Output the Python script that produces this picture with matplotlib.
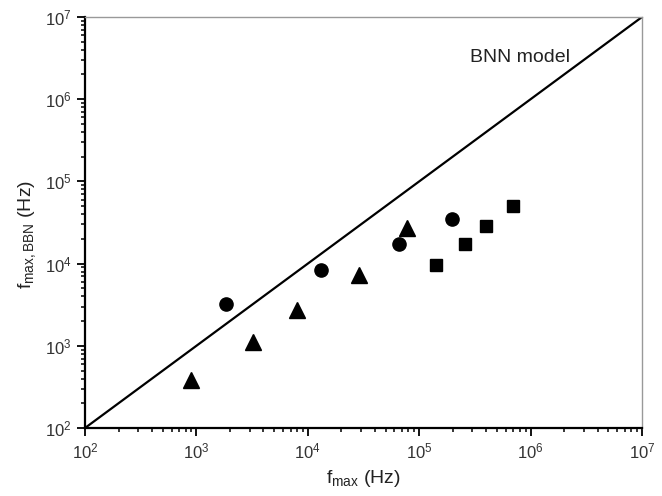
import matplotlib
matplotlib.use("Agg")
import matplotlib.pyplot as plt
from matplotlib.ticker import LogLocator, LogFormatterMathtext, NullFormatter

plt.rcParams['font.family'] = ['Liberation Sans', 'DejaVu Sans']
plt.rcParams['mathtext.fontset'] = 'custom'
plt.rcParams['mathtext.rm'] = 'Liberation Sans'
plt.rcParams['mathtext.it'] = 'Liberation Sans:italic'
plt.rcParams['mathtext.bf'] = 'Liberation Sans:bold'

# data
tri_x = [900, 3220, 8000, 2.9e4, 7.7e4]
tri_y = [380, 1100, 2700, 7270, 2.71e4]
circ_x = [1830, 1.31e4, 6.59e4, 1.97e5]
circ_y = [3225, 8360, 1.73e4, 3.46e4]
sq_x = [1.41e5, 2.58e5, 3.98e5, 6.9e5]
sq_y = [9.6e3, 1.75e4, 2.87e4, 5.06e4]
model_x = [1e2, 1e7]
model_y = [1e2, 1e7]

fig = plt.figure(figsize=(6.62, 4.96), dpi=100)
ax = fig.add_axes([0.1284, 0.1371, 0.8414, 0.8286])

ax.plot(model_x, model_y, color='black', lw=1.6)
ax.plot(tri_x, tri_y, '^', color='black', ms=11, ls='none')
ax.plot(circ_x, circ_y, 'o', color='black', ms=9.5, ls='none')
ax.plot(sq_x, sq_y, 's', color='black', ms=9, ls='none')

ax.set_xscale('log')
ax.set_yscale('log')
ax.set_xlim(1e2, 1e7)
ax.set_ylim(1e2, 1e7)

for axis in (ax.xaxis, ax.yaxis):
    axis.set_major_locator(LogLocator(base=10, numticks=10))
    axis.set_minor_locator(LogLocator(base=10, subs=range(2, 10), numticks=10))
    axis.set_major_formatter(LogFormatterMathtext())
    axis.set_minor_formatter(NullFormatter())

ax.tick_params(which='major', direction='out', length=6, width=1.3,
               labelsize=12, labelcolor='#333333', top=False, right=False)
ax.tick_params(which='minor', direction='out', length=3, width=1.1,
               top=False, right=False)
for s in ('left', 'bottom'):
    ax.spines[s].set_linewidth(1.6)
    ax.spines[s].set_color('black')
for s in ('top', 'right'):
    ax.spines[s].set_linewidth(1.0)
    ax.spines[s].set_color('#999999')

ax.text(2.86e5, 3.26e6, 'BNN model', fontsize=14, color='#222222',
        ha='left', va='center')

ax.set_xlabel(r'f$_{\mathrm{max}}$ (Hz)', fontsize=14, color='#222222')
ax.set_ylabel(r'f$_{\mathrm{max,BBN}}$ (Hz)', fontsize=14, color='#222222')
ax.xaxis.set_label_coords(0.5, -0.097)
ax.yaxis.set_label_coords(-0.085, 0.47)

fig.savefig('out.png', dpi=100)
